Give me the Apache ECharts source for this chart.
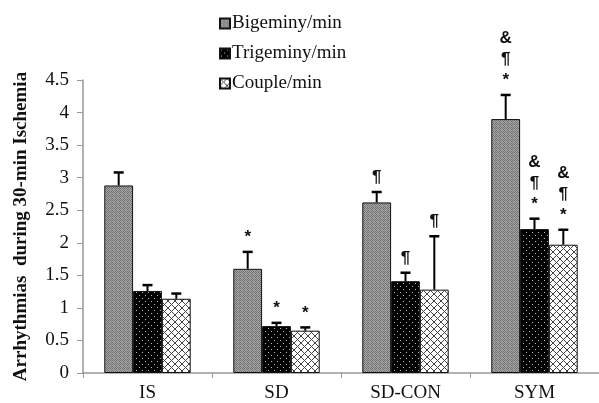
<!DOCTYPE html>
<html><head><meta charset="utf-8">
<script src="https://cdn.jsdelivr.net/npm/echarts@6/dist/echarts.min.js"></script>
<style>html,body{margin:0;padding:0;background:#fff}#c{width:599px;height:403px}</style>
</head><body><div id="c"></div>
<script>
const categories = ['IS', 'SD', 'SD-CON', 'SYM'];
const seriesNames = ['Bigeminy/min', 'Trigeminy/min', 'Couple/min'];
const bigeminy = [2.88, 1.60, 2.62, 3.90];
const bigeminyErr = [0.20, 0.26, 0.16, 0.37];
const trigeminy = [1.26, 0.72, 1.41, 2.21];
const trigeminyErr = [0.09, 0.05, 0.13, 0.16];
const couple = [1.14, 0.65, 1.28, 1.97];
const coupleErr = [0.08, 0.05, 0.82, 0.23];
const bigeminySig = ['', '*', '¶', '&\n¶\n*'];
const trigeminySig = ['', '*', '¶', '&\n¶\n*'];
const coupleSig = ['', '*', '¶', '&\n¶\n*'];
const yTicks = [0, 0.5, 1, 1.5, 2, 2.5, 3, 3.5, 4, 4.5];

function makePattern(size, draw) {
  const c = document.createElement('canvas');
  c.width = size; c.height = size;
  const ctx = c.getContext('2d');
  draw(ctx, size);
  return { image: c, repeat: 'repeat' };
}
const patBig = makePattern(4, (ctx) => {
  ctx.fillStyle = '#a6a6a6'; ctx.fillRect(0, 0, 4, 4);
  ctx.fillStyle = '#6e6e6e';
  [[0,0],[2,0],[1,1],[3,1],[0,2],[2,2],[1,3],[3,3]].forEach(p => ctx.fillRect(p[0], p[1], 1, 1));
  ctx.fillStyle = '#8a8a8a';
  ctx.fillRect(1, 1, 1, 1); ctx.fillRect(2, 2, 1, 1);
});
const patTri = makePattern(6, (ctx) => {
  ctx.fillStyle = '#000'; ctx.fillRect(0, 0, 6, 6);
  ctx.fillStyle = '#bbb'; ctx.fillRect(1, 1, 1, 1); ctx.fillRect(4, 4, 1, 1);
});
const patCou = makePattern(7, (ctx) => {
  ctx.fillStyle = '#fff'; ctx.fillRect(0, 0, 7, 7);
  ctx.strokeStyle = '#444'; ctx.lineWidth = 1;
  ctx.beginPath();
  ctx.moveTo(-1, -1); ctx.lineTo(8, 8);
  ctx.moveTo(8, -1); ctx.lineTo(-1, 8);
  ctx.stroke();
});
const patterns = [patBig, patTri, patCou];
const values = [bigeminy, trigeminy, couple];
const errs = [bigeminyErr, trigeminyErr, coupleErr];
const sigs = [bigeminySig, trigeminySig, coupleSig];

const errData = [];
const errLabels = [];
for (let s = 0; s < 3; s++) {
  for (let i = 0; i < categories.length; i++) {
    errData.push([i, s, values[s][i], errs[s][i]]);
    errLabels.push(sigs[s][i]);
  }
}
const CAT_GAP = 0.33;

const chart = echarts.init(document.getElementById('c'), null, { renderer: 'canvas' });
const serif = '"Liberation Serif", "Times New Roman", serif';
const option = {
  animation: false,
  backgroundColor: '#fff',
  legend: {
    orient: 'vertical', left: 214, top: 9, itemWidth: 10, itemHeight: 10, itemGap: 11,
    data: seriesNames,
    textStyle: { fontFamily: serif, fontSize: 19, color: '#111', padding: [0, 0, 0, -3] },
    icon: 'rect'
  },
  grid: { left: 83, right: -8, top: 80, bottom: 29, containLabel: false },
  xAxis: {
    type: 'category', data: categories,
    axisLine: { lineStyle: { color: '#999', width: 1.5 } },
    axisTick: { show: true, length: 5, lineStyle: { color: '#999' } },
    axisLabel: { fontFamily: serif, fontSize: 19, color: '#111', margin: 11 }
  },
  yAxis: {
    type: 'value', min: 0, max: 4.5, interval: 0.5,
    name: 'Arrhythmias  during 30-min Ischemia', nameLocation: 'middle', nameGap: 52,
    nameTextStyle: { fontFamily: serif, fontSize: 19, fontWeight: 'bold', color: '#111' },
    axisLine: { show: true, lineStyle: { color: '#999', width: 1.5 } },
    axisTick: { show: true, length: 6, lineStyle: { color: '#999' } },
    splitLine: { show: false },
    axisLabel: { fontFamily: serif, fontSize: 19, color: '#111', margin: 14,
      formatter: (v) => String(yTicks.find(t => Math.abs(t - v) < 1e-9) ?? v) }
  },
  series: [
    ...seriesNames.map((n, s) => ({
      name: n, type: 'bar', data: values[s],
      barGap: '0%', barCategoryGap: (CAT_GAP * 100) + '%',
      itemStyle: { color: patterns[s], borderColor: '#111', borderWidth: 1 },
      z: 2
    })),
    {
      type: 'custom', z: 5, silent: true,
      data: errData,
      renderItem: function (params, api) {
        const cat = api.value(0), s = api.value(1), v = api.value(2), e = api.value(3);
        const band = api.size([1, 0])[0];
        const bw = band * (1 - CAT_GAP) / 3;
        const base = api.coord([cat, v]);
        const x = base[0] + (s - 1) * bw;
        const top = api.coord([cat, v + e])[1];
        const label = errLabels[params.dataIndex];
        const children = [
          { type: 'line', shape: { x1: x, y1: base[1], x2: x, y2: top }, style: { stroke: '#000', lineWidth: 2 } },
          { type: 'line', shape: { x1: x - 5, y1: top, x2: x + 5, y2: top }, style: { stroke: '#000', lineWidth: 2.5 } }
        ];
        if (label) {
          children.push({ type: 'text', x: x, y: top - 4, style: {
            text: label, fontFamily: '"Liberation Sans", Arial, sans-serif', fontWeight: 'bold',
            fontSize: 17, lineHeight: 21, fill: '#111', align: 'center', verticalAlign: 'bottom' } });
        }
        return { type: 'group', children };
      }
    }
  ]
};
chart.setOption(option);
</script></body></html>
